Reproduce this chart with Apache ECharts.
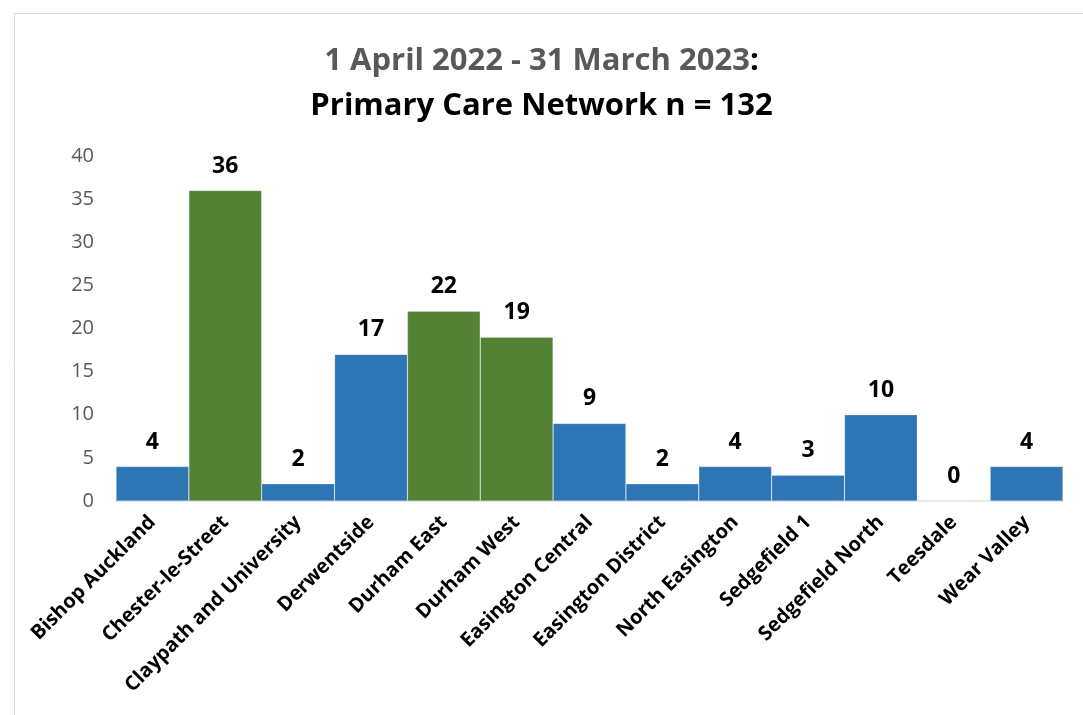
<!DOCTYPE html>
<html>
<head>
<meta charset="utf-8">
<script src="https://cdn.jsdelivr.net/npm/echarts@6/dist/echarts.min.js"></script>
<style>
  html, body { margin: 0; padding: 0; background: #fff; }
  #chart { width: 1083px; height: 715px; }
</style>
</head>
<body>
<div id="chart"></div>
<script>
// Primary Care Network counts, 1 April 2022 - 31 March 2023
const categories = [
  'Bishop Auckland', 'Chester-le-Street', 'Claypath and University', 'Derwentside',
  'Durham East', 'Durham West', 'Easington Central', 'Easington District',
  'North Easington', 'Sedgefield 1', 'Sedgefield North', 'Teesdale', 'Wear Valley'
];
const counts = [4, 36, 2, 17, 22, 19, 9, 2, 4, 3, 10, 0, 4];
// Networks drawn in green
const highlighted = ['Chester-le-Street', 'Durham East', 'Durham West'];
const yTicks = { min: 0, max: 40, interval: 5 };

const BLUE = '#2E75B6';
const GREEN = '#548235';
const FONT = '"Open Sans", "Noto Sans", sans-serif';

const chart = echarts.init(document.getElementById('chart'));
chart.setOption({
  animation: false,
  textStyle: { fontFamily: FONT },
  graphic: [{
    type: 'rect',
    left: 12, top: 11,
    shape: { width: 1100, height: 720 },
    style: { fill: 'none', stroke: '#D9D9D9', lineWidth: 1 },
    silent: true
  }],
  title: {
    text: '{g|1 April 2022 - 31 March 2023}{b|:}\n{b|Primary Care Network n = 132}',
    left: 'center',
    top: 34,
    textStyle: {
      rich: {
        g: { fontSize: 31, fontWeight: 'bold', color: '#595959', fontFamily: FONT, lineHeight: 45 },
        b: { fontSize: 31, fontWeight: 'bold', color: '#000', fontFamily: FONT, lineHeight: 45 }
      }
    }
  },
  grid: { left: 116, right: 20, top: 156, bottom: 214 },
  xAxis: {
    type: 'category',
    data: categories,
    axisLine: { lineStyle: { color: '#D9D9D9', width: 1.5 } },
    axisTick: { show: false },
    axisLabel: {
      interval: 0,
      rotate: 45,
      margin: 18,
      color: '#000',
      fontWeight: 'bold',
      fontSize: 20,
      fontFamily: FONT
    }
  },
  yAxis: {
    type: 'value',
    min: yTicks.min,
    max: yTicks.max,
    interval: yTicks.interval,
    splitLine: { show: false },
    axisLine: { show: false },
    axisTick: { show: false },
    axisLabel: { color: '#595959', fontSize: 20, margin: 22, fontFamily: FONT }
  },
  series: [{
    type: 'bar',
    barCategoryGap: '0%',
    data: categories.map((c, i) => ({
      value: counts[i],
      itemStyle: { color: highlighted.includes(c) ? GREEN : BLUE }
    })),
    itemStyle: { borderColor: 'rgba(255,255,255,0.35)', borderWidth: 0.6 },
    label: {
      show: true,
      position: 'top',
      distance: 13,
      color: '#000',
      fontWeight: 'bold',
      fontSize: 23,
      fontFamily: FONT
    }
  }]
});
</script>
</body>
</html>
